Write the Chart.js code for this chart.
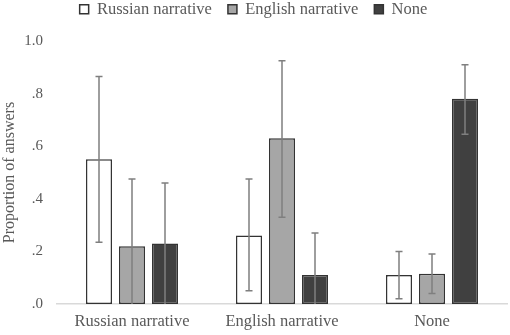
<!DOCTYPE html>
<html>
<head>
<meta charset="utf-8">
<script src="https://cdn.jsdelivr.net/npm/chart.js@4"></script>
<style>
  html, body { margin: 0; padding: 0; background: #ffffff; }
  #wrap { width: 510px; height: 335px; }
</style>
</head>
<body>
<div id="wrap"><canvas id="c" width="510" height="335"></canvas></div>
<script>
const categories = ['Russian narrative', 'English narrative', 'None'];
const seriesNames = ['Russian narrative', 'English narrative', 'None'];
const russianValues = [0.55, 0.26, 0.11];
const englishValues = [0.22, 0.63, 0.115];
const noneValues = [0.23, 0.11, 0.78];
const russianErrLow = [0.235, 0.05, 0.02];
const russianErrHigh = [0.865, 0.475, 0.20];
const englishErrLow = [0.0, 0.33, 0.04];
const englishErrHigh = [0.475, 0.925, 0.19];
const noneErrLow = [0.0, 0.0, 0.645];
const noneErrHigh = [0.46, 0.27, 0.91];
const yTickValues = [0, 0.2, 0.4, 0.6, 0.8, 1.0];
const yTickLabels = ['.0', '.2', '.4', '.6', '.8', '1.0'];

const FONT = "'Liberation Serif', 'Times New Roman', serif";
const TEXT = '#595959';

const errorBarPlugin = {
  id: 'errorBars',
  afterDatasetsDraw(chart) {
    const ctx = chart.ctx;
    const yScale = chart.scales.y;
    chart.data.datasets.forEach((ds, di) => {
      const meta = chart.getDatasetMeta(di);
      meta.data.forEach((bar, i) => {
        const x = bar.x;
        const yLow = yScale.getPixelForValue(ds.errLow[i]);
        const yHigh = yScale.getPixelForValue(ds.errHigh[i]);
        ctx.save();
        ctx.strokeStyle = '#7f7f7f';
        ctx.lineWidth = 1.5;
        ctx.beginPath();
        ctx.moveTo(x, yLow);
        ctx.lineTo(x, yHigh);
        ctx.moveTo(x - 3.5, yHigh);
        ctx.lineTo(x + 3.5, yHigh);
        if (ds.errLow[i] > 0) {
          ctx.moveTo(x - 3.5, yLow);
          ctx.lineTo(x + 3.5, yLow);
        }
        ctx.stroke();
        ctx.restore();
      });
    });
  }
};

const legendShift = {
  id: 'legendShift',
  afterLayout(chart) {
    if (chart.legend) {
      chart.legend.top -= 15;
      chart.legend.bottom -= 15;
    }
  }
};

function mkDataset(label, data, lo, hi, fill) {
  return {
    label: label,
    data: data,
    errLow: lo,
    errHigh: hi,
    backgroundColor: fill,
    borderColor: '#333333',
    borderWidth: 1.5,
    borderSkipped: false,
    categoryPercentage: 0.66,
    barPercentage: 0.79
  };
}

new Chart(document.getElementById('c'), {
  type: 'bar',
  data: {
    labels: categories,
    datasets: [
      mkDataset(seriesNames[0], russianValues, russianErrLow, russianErrHigh, '#ffffff'),
      mkDataset(seriesNames[1], englishValues, englishErrLow, englishErrHigh, '#a6a6a6'),
      mkDataset(seriesNames[2], noneValues, noneErrLow, noneErrHigh, '#404040')
    ]
  },
  options: {
    responsive: false,
    animation: false,
    devicePixelRatio: 1,
    layout: { padding: { top: 0, right: 3, bottom: 0, left: 0 } },
    plugins: {
      legend: {
        position: 'top',
        maxHeight: 41,
        labels: {
          boxWidth: 9,
          boxHeight: 9,
          padding: 16,
          color: TEXT,
          font: { family: FONT, size: 16.5 }
        }
      },
      tooltip: { enabled: false }
    },
    scales: {
      x: {
        grid: { display: false, drawTicks: false },
        border: { display: true, color: '#d9d9d9', width: 1.5 },
        ticks: { color: TEXT, font: { family: FONT, size: 16.5 }, padding: 8 },
        afterFit(scale) { scale.height = 31; }
      },
      y: {
        min: 0,
        max: 1.0,
        afterBuildTicks(scale) {
          scale.ticks = yTickValues.map(v => ({ value: v }));
        },
        afterFit(scale) { scale.width = 57; },
        grid: { display: false, drawTicks: false },
        border: { display: false },
        ticks: {
          color: TEXT,
          font: { family: FONT, size: 15 },
          padding: 14,
          callback(value) {
            const idx = yTickValues.findIndex(v => Math.abs(v - value) < 1e-9);
            return idx >= 0 ? yTickLabels[idx] : '';
          }
        },
        title: {
          display: true,
          text: 'Proportion of answers',
          color: TEXT,
          font: { family: FONT, size: 16 },
          padding: { top: 0, bottom: 0 }
        }
      }
    }
  },
  plugins: [errorBarPlugin, legendShift]
});
</script>
</body>
</html>
